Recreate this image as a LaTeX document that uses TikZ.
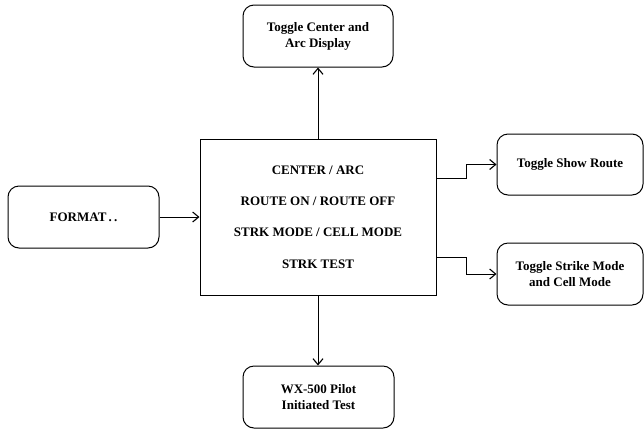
\documentclass[tikz,border=0pt]{standalone}
\usepackage{fontspec}
\setmainfont{Liberation Serif}
\usetikzlibrary{arrows.meta}
\begin{document}
\begin{tikzpicture}[x=1pt,y=-1pt,
  roundbox/.style={draw, line width=1pt, rounded corners=11pt, align=center,
    inner sep=0pt, font=\bfseries\fontsize{13}{16}\selectfont},
  mainbox/.style={draw, line width=1pt, align=center, inner sep=0pt,
    minimum width=236pt, minimum height=156pt,
    font=\bfseries\fontsize{13}{31.3}\selectfont},
  arr/.style={line width=0.9pt, -{Straight Barb[length=6pt,width=10pt,line width=1.1pt]}},
  link/.style={line width=0.9pt}]
\useasboundingbox (0,0) rectangle (644,429);

\node[mainbox] (m) at (318,217)
  {CENTER / ARC\\ROUTE ON / ROUTE OFF\\STRK MODE / CELL MODE\\STRK TEST};

\node[roundbox, minimum width=150pt, minimum height=62pt] (top) at (318,36)
  {Toggle Center and\\Arc Display};
\node[roundbox, minimum width=151pt, minimum height=62pt] (fmt) at (83.5,217)
  {FORMAT\,.\,.};
\node[roundbox, minimum width=146pt, minimum height=61pt] (route) at (570,164.5)
  {Toggle Show Route};
\node[roundbox, minimum width=146pt, minimum height=62pt] (strike) at (570,274)
  {Toggle Strike Mode\\and Cell Mode};
\node[roundbox, minimum width=151pt, minimum height=62pt] (test) at (318.5,397)
  {WX-500 Pilot\\Initiated Test};

% connectors
\draw[arr] (m.north) -- (top.south);
\draw[arr] (m.south) -- (m.south |- test.north);
\draw[arr] (fmt.east) -- (m.west |- fmt.east);
\draw[arr] ([yshift=39pt]m.east) -- ++(30,0) |- (route.west);
\draw[arr] ([yshift=-40pt]m.east) -- ++(30,0) |- (strike.west);
\end{tikzpicture}
\end{document}
